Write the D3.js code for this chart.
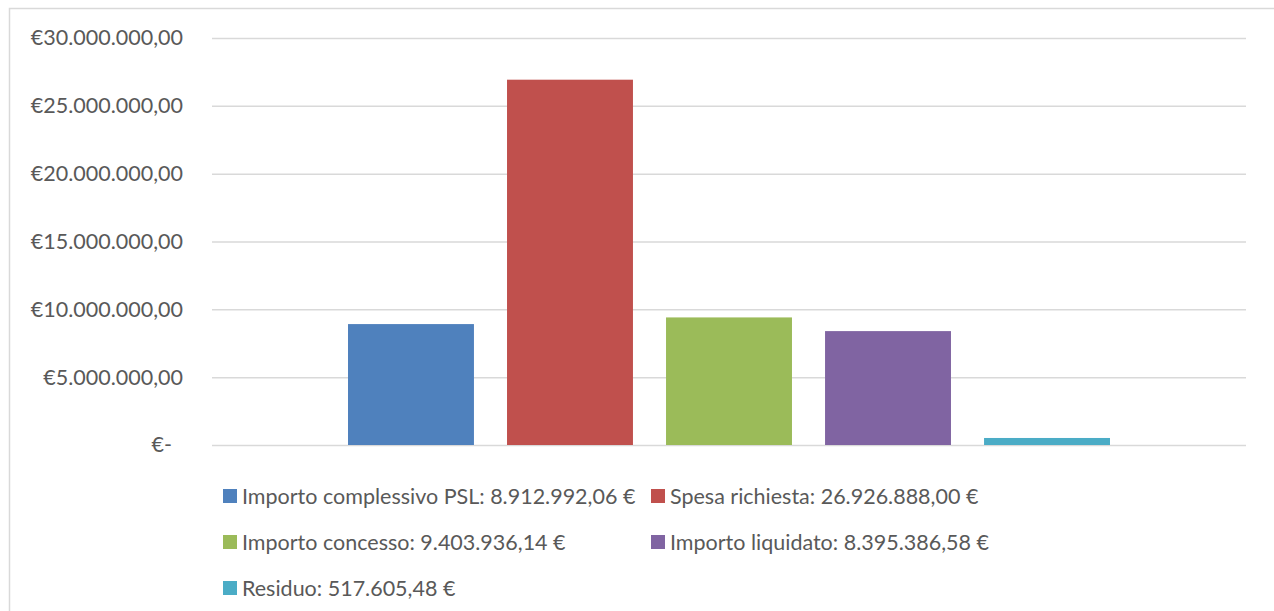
<!DOCTYPE html>
<html>
<head>
<meta charset="utf-8">
<script src="https://cdn.jsdelivr.net/npm/d3@7"></script>
<style>
  body { margin: 0; background: #fff; }
  text { font-family: Lato, "Open Sans", sans-serif; fill: #595959; }
</style>
</head>
<body>
<div id="chart"></div>
<script>
// Data
var seriesNames = ["Importo complessivo PSL", "Spesa richiesta", "Importo concesso", "Importo liquidato", "Residuo"];
var seriesValues = [8912992.06, 26926888.00, 9403936.14, 8395386.58, 517605.48];
var seriesLabels = ["8.912.992,06 €", "26.926.888,00 €", "9.403.936,14 €", "8.395.386,58 €", "517.605,48 €"];
var seriesColors = ["#4F81BD", "#C0504D", "#9BBB59", "#8064A2", "#4BACC6"];
var yTicks = [0, 5000000, 10000000, 15000000, 20000000, 25000000, 30000000];
var yTickLabels = ["€-", "€5.000.000,00", "€10.000.000,00", "€15.000.000,00", "€20.000.000,00", "€25.000.000,00", "€30.000.000,00"];

// SVG area
var svgWidth = 1274;
var svgHeight = 611;

// Plot area
var plot = { left: 212, right: 1246, top: 38, bottom: 445 };

var svg = d3.select("#chart")
  .append("svg")
  .attr("width", svgWidth)
  .attr("height", svgHeight);

// Chart border (extends past the bottom/right of the picture)
svg.append("rect")
  .attr("x", 9.5)
  .attr("y", 8.5)
  .attr("width", svgWidth + 10)
  .attr("height", svgHeight + 10)
  .attr("fill", "none")
  .attr("stroke", "#D9D9D9")
  .attr("stroke-width", 1.5);

// Scales
var yScale = d3.scaleLinear()
  .domain([0, 30000000])
  .range([plot.bottom, plot.top]);

// one category, five series bars inside it
var categoryScale = d3.scaleBand()
  .domain(["PSL"])
  .range([plot.left, plot.right])
  .paddingOuter(0.1785);

var xScale = d3.scaleBand()
  .domain(seriesNames)
  .range([categoryScale("PSL"), categoryScale("PSL") + categoryScale.bandwidth()])
  .paddingInner(0.208)
  .paddingOuter(0);

// Left axis with gridlines
var leftAxis = d3.axisLeft(yScale)
  .tickValues(yTicks)
  .tickSize(-(plot.right - plot.left))
  .tickPadding(29)
  .tickFormat(function (d, i) { return yTickLabels[i]; });

var axisG = svg.append("g")
  .attr("transform", `translate(${plot.left}, 0)`)
  .call(leftAxis);

axisG.select(".domain").remove();
axisG.selectAll(".tick line")
  .attr("stroke", "#D9D9D9")
  .attr("stroke-width", 1.5);
axisG.selectAll(".tick text")
  .attr("font-size", "21.5px")
  .attr("fill", "#595959")
  .style("font-family", "Lato, 'Open Sans', sans-serif");
// zero label sits a little further left, like the accounting format
axisG.selectAll(".tick text")
  .filter(function (d) { return d === 0; })
  .attr("x", -40);

// Bars
svg.append("g")
  .selectAll("rect")
  .data(seriesNames)
  .join("rect")
  .attr("x", d => xScale(d))
  .attr("width", xScale.bandwidth())
  .attr("y", (d, i) => yScale(seriesValues[i]))
  .attr("height", (d, i) => yScale(0) - yScale(seriesValues[i]))
  .attr("fill", (d, i) => seriesColors[i]);

// Legend
var legendLeft = 223;
var legendTop = 496;
var legendColWidth = 428;
var legendRowHeight = 46;

var legend = svg.append("g")
  .selectAll("g")
  .data(seriesNames)
  .join("g")
  .attr("transform", (d, i) => `translate(${legendLeft + (i % 2) * legendColWidth}, ${legendTop + Math.floor(i / 2) * legendRowHeight})`);

legend.append("rect")
  .attr("x", 0)
  .attr("y", -7)
  .attr("width", 14)
  .attr("height", 14)
  .attr("fill", (d, i) => seriesColors[i]);

legend.append("text")
  .attr("x", 19)
  .attr("y", 0)
  .attr("dy", "0.35em")
  .attr("font-size", "21.5px")
  .text((d, i) => d + ": " + seriesLabels[i]);
</script>
</body>
</html>
